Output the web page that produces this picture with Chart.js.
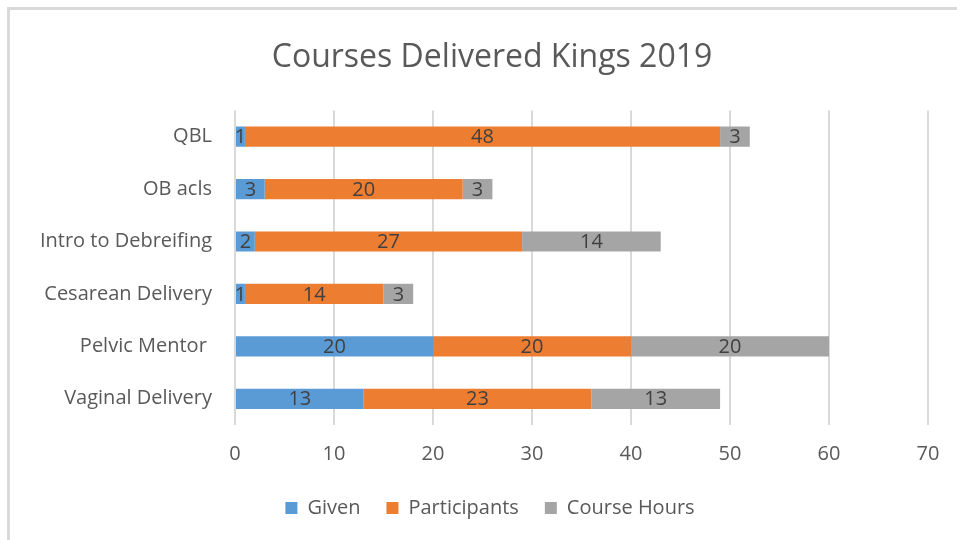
<!DOCTYPE html>
<html>
<head>
<meta charset="utf-8">
<script src="https://cdn.jsdelivr.net/npm/chart.js@4/dist/chart.umd.min.js"></script>
<style>
  html, body { margin: 0; padding: 0; background: #fff; }
  .frame {
    position: absolute; left: 7px; top: 7px; width: 960px; height: 540px;
    border-top: 3px solid #d9d9d9; border-left: 3px solid #d9d9d9;
  }
  .wrap { position: absolute; left: 0; top: 0; width: 957px; height: 540px; }
</style>
</head>
<body>
<div class="frame"></div>
<div class="wrap"><canvas id="coursesChart"></canvas></div>
<script>
// 데이터
const categories = ["QBL", "OB acls", "Intro to Debreifing", "Cesarean Delivery", "Pelvic Mentor ", "Vaginal Delivery"];
const given = [1, 3, 2, 1, 20, 13];
const participants = [48, 20, 27, 14, 20, 23];
const courseHours = [3, 3, 14, 3, 20, 13];

const fontFamily = "'Open Sans', 'Noto Sans', sans-serif";

// 막대 가운데 값 표시
const barValueLabels = {
  id: "barValueLabels",
  afterDatasetsDraw(chart) {
    const ctx = chart.ctx;
    ctx.save();
    ctx.font = `20px ${fontFamily}`;
    ctx.fillStyle = "#404040";
    ctx.textAlign = "center";
    ctx.textBaseline = "middle";
    chart.data.datasets.forEach((ds, i) => {
      chart.getDatasetMeta(i).data.forEach((bar, j) => {
        const left = Math.min(bar.x, bar.base);
        const right = Math.max(bar.x, bar.base);
        ctx.fillText(ds.data[j], (left + right) / 2, bar.y + 1);
      });
    });
    ctx.restore();
  },
};

// 제목/범례를 조금 오른쪽으로 (엑셀 배치처럼)
const shiftBlocks = {
  id: "shiftBlocks",
  afterLayout(chart) {
    if (chart.titleBlock) chart.titleBlock.left += 56;
    if (chart.legend) chart.legend.left += 52;
  },
};

const chartEl = document.getElementById("coursesChart");
const coursesChart = new Chart(chartEl, {
  type: "bar",
  data: {
    labels: categories,
    datasets: [
      { label: "Given", data: given, backgroundColor: "#5b9bd5", borderWidth: 0 },
      { label: "Participants", data: participants, backgroundColor: "#ed7d31", borderWidth: 0 },
      { label: "Course Hours", data: courseHours, backgroundColor: "#a5a5a5", borderWidth: 0 },
    ],
  },
  options: {
    indexAxis: "y",
    responsive: true,
    maintainAspectRatio: false,
    animation: { duration: 0 },
    datasets: {
      bar: { categoryPercentage: 1, barPercentage: 0.385 },
    },
    layout: {
      padding: { left: 0, right: 29, top: 0, bottom: 12 },
    },
    scales: {
      x: {
        stacked: true,
        min: 0,
        max: 70,
        afterFit: (scale) => {
          scale.height = 47;
        },
        ticks: {
          stepSize: 10,
          color: "#595959",
          font: { family: fontFamily, size: 20 },
          padding: 17,
        },
        grid: { color: "#d9d9d9", lineWidth: 2, drawTicks: false },
        border: { display: false },
      },
      y: {
        stacked: true,
        afterFit: (scale) => {
          scale.width = 235;
        },
        ticks: {
          color: "#595959",
          font: { family: fontFamily, size: 20 },
          padding: 23,
        },
        grid: { display: false, drawTicks: false },
        border: { display: false },
      },
    },
    plugins: {
      title: {
        display: true,
        text: "Courses Delivered Kings 2019",
        color: "#595959",
        font: { family: fontFamily, size: 32, weight: "normal" },
        padding: { top: 39, bottom: 33 },
      },
      legend: {
        position: "bottom",
        labels: {
          color: "#595959",
          font: { family: fontFamily, size: 20 },
          boxWidth: 12,
          boxHeight: 12,
          padding: 26,
        },
      },
      tooltip: { enabled: false },
    },
  },
  plugins: [barValueLabels, shiftBlocks],
});
</script>
</body>
</html>
